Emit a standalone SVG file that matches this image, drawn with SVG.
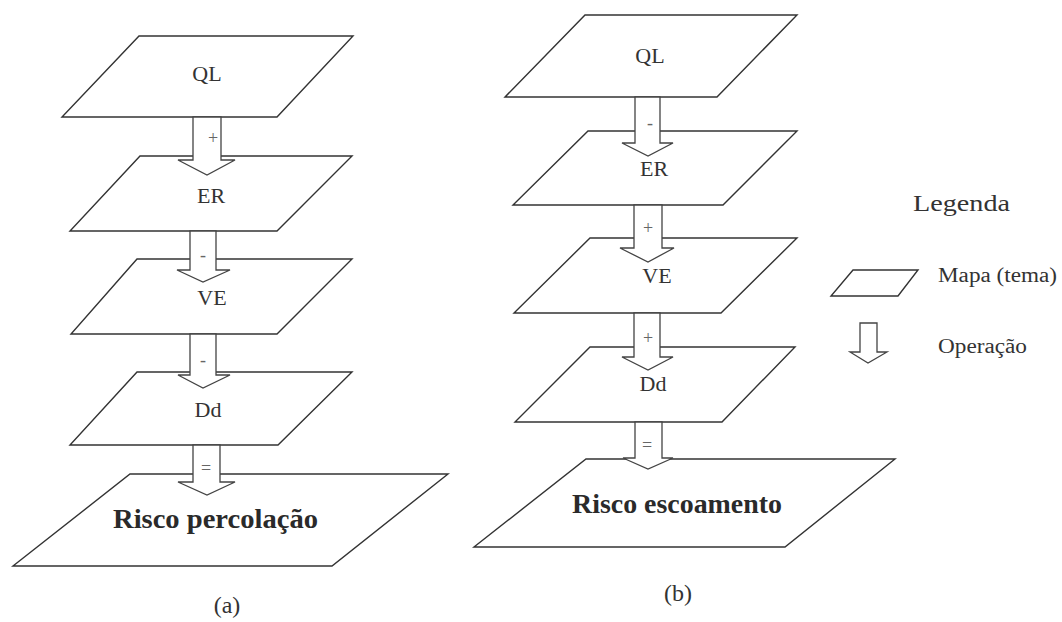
<svg xmlns="http://www.w3.org/2000/svg" width="1062" height="622" viewBox="0 0 1062 622">
<style>
.map{fill:#fff;stroke:#333;stroke-width:1.4;stroke-linejoin:miter}
.op{fill:#fff;stroke:#444;stroke-width:1.3}
.lbl{font-family:"Liberation Serif",serif;font-size:22px;fill:#333;text-anchor:middle}
.sign{font-family:"Liberation Serif",serif;font-size:18px;fill:#666;text-anchor:middle}
.big{font-family:"Liberation Serif",serif;font-size:27px;font-weight:bold;fill:#2a2a2a}
.cap{font-family:"Liberation Serif",serif;font-size:24px;fill:#333;text-anchor:middle}
.leg{font-family:"Liberation Serif",serif;fill:#333}
</style>
<rect width="1062" height="622" fill="#fff"/>
<g id="a-QL"><polygon class="map" points="139,36 353,36 277,117 62,117"/><text class="lbl" x="207" y="81">QL</text></g>
<g id="a-ER"><polygon class="map" points="140,156 352,156 277,231 70,231"/><text class="lbl" x="211" y="203">ER</text></g>
<g id="a-VE"><polygon class="map" points="137,259 352,259 277,334 71,334"/><text class="lbl" x="212" y="305">VE</text></g>
<g id="a-Dd"><polygon class="map" points="137,372 352,372 278,445 70,445"/><text class="lbl" x="208" y="417">Dd</text></g>
<g id="a-Risco"><polygon class="map" points="130,474 448,474 332,566 13,566"/><text class="big" x="113" y="528" textLength="205" lengthAdjust="spacingAndGlyphs">Risco percolação</text></g>
<g id="b-QL"><polygon class="map" points="585,15 797,15 717,97 505,97"/><text class="lbl" x="650" y="63">QL</text></g>
<g id="b-ER"><polygon class="map" points="588,131 797,131 723,205 513,205"/><text class="lbl" x="654" y="176">ER</text></g>
<g id="b-VE"><polygon class="map" points="590,238 797,238 721,313 514,313"/><text class="lbl" x="657" y="283">VE</text></g>
<g id="b-Dd"><polygon class="map" points="590,347 795,347 722,422 515,422"/><text class="lbl" x="653" y="391">Dd</text></g>
<g id="b-Risco"><polygon class="map" points="586,459 895,459 785,547 474,547"/><text class="big" x="572" y="513" textLength="210" lengthAdjust="spacingAndGlyphs">Risco escoamento</text></g>
<g id="connectors">
<polygon class="op" points="193,117 221,117 221,160 235,160 207,175 178,160 193,160"/>
<polygon class="op" points="190,231 216,231 216,270 230,270 203,282 177,270 190,270"/>
<polygon class="op" points="190,334 216,334 216,375 230,375 203,388 178,375 190,375"/>
<polygon class="op" points="193,445 220,445 220,482 235,482 207,495 178,482 193,482"/>
<polygon class="op" points="635,97 660,97 660,143 673,143 648,156 622,143 635,143"/>
<polygon class="op" points="634,205 662,205 662,248 674,248 648,262 620,248 634,248"/>
<polygon class="op" points="634,313 660,313 660,357 673,357 648,370 622,357 634,357"/>
<polygon class="op" points="635,422 662,422 662,458 673,458 648,469 623,458 635,458"/>
<text class="sign" x="213" y="144">+</text>
<text class="sign" x="203" y="261">-</text>
<text class="sign" x="203" y="366">-</text>
<text class="sign" x="206" y="474">=</text>
<text class="sign" x="650" y="129">-</text>
<text class="sign" x="648" y="234">+</text>
<text class="sign" x="648" y="344">+</text>
<text class="sign" x="647" y="451">=</text>
</g>
<g id="legend">
<text class="leg" x="913" y="211" font-size="24" textLength="97" lengthAdjust="spacingAndGlyphs">Legenda</text>
<polygon class="map" points="853,270 918,270 898,296 831,296"/>
<text class="leg" x="938" y="282" font-size="20" textLength="119" lengthAdjust="spacingAndGlyphs">Mapa (tema)</text>
<polygon class="op" points="860,323 877,323 877,352 887,352 868,363 850,352 860,352"/>
<text class="leg" x="938" y="353" font-size="20" textLength="89" lengthAdjust="spacingAndGlyphs">Operação</text>
</g>
<text class="cap" x="227" y="613">(a)</text>
<text class="cap" x="678" y="601">(b)</text>
</svg>
